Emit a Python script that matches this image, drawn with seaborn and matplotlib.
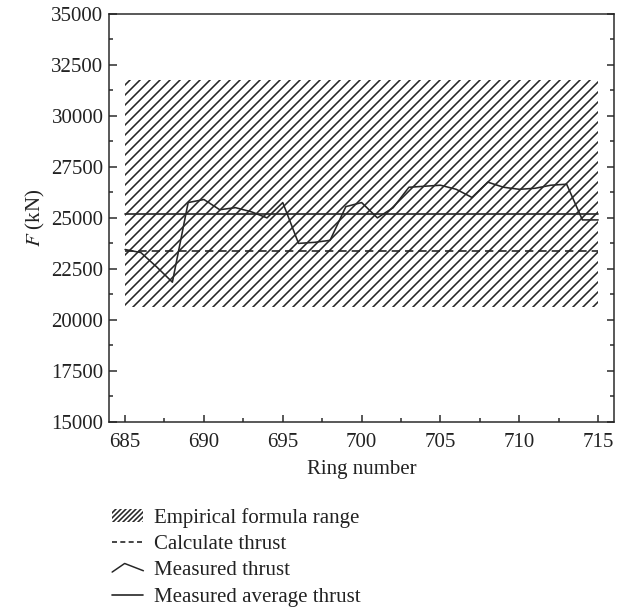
import matplotlib
matplotlib.use("Agg")
import matplotlib.pyplot as plt
import seaborn as sns
import pandas as pd
import numpy as np
from matplotlib.patches import Patch
from matplotlib.lines import Line2D
from matplotlib.legend_handler import HandlerBase
from matplotlib.ticker import MultipleLocator

# ---------------- data ----------------
ring = list(range(685, 716))
measured_thrust = [23450, 23300, 22600, 21850, 25750, 25900, 25400, 25500, 25300, 25000,
                   25750, 23750, 23800, 23900, 25550, 25750, 25000, 25500, 26500, 26550,
                   26600, 26400, 26000, 26750, 26500, 26400, 26450, 26600, 26650, 24900,
                   24900]
range_rings = [685, 715]
range_low = [20650, 20650]
range_high = [31750, 31750]
calc_thrust = 23400
avg_thrust = 25200

labels = ["Empirical formula range", "Calculate thrust", "Measured thrust",
          "Measured average thrust"]

# ---------------- style ----------------
sns.set_style("ticks")
plt.rcParams["font.family"] = ["Liberation Serif", "DejaVu Serif"]
plt.rcParams["mathtext.fontset"] = "stix"
plt.rcParams["hatch.linewidth"] = 0.95

INK = "#262626"
fig = plt.figure(figsize=(5.25, 5.1), dpi=120)
ax = fig.add_axes([0.1735, 0.3105, 0.801, 0.667])

df = pd.DataFrame({"ring": ring, "thrust": measured_thrust})

ax.fill_between(range_rings, range_low, range_high, facecolor="none",
                edgecolor=INK, hatch="////", linewidth=0)
ax.axhline(calc_thrust, xmin=(range_rings[0] - 684) / 32, xmax=(range_rings[1] - 684) / 32,
           color=INK, lw=1.0, ls=(0, (5, 3)))
ax.axhline(avg_thrust, xmin=(range_rings[0] - 684) / 32, xmax=(range_rings[1] - 684) / 32,
           color=INK, lw=1.0)
sns.lineplot(data=df, x="ring", y="thrust", ax=ax, color=INK, lw=0.95)

ax.set_xlim(684, 716)
ax.set_ylim(15000, 35000)
ax.xaxis.set_major_locator(MultipleLocator(5))
ax.xaxis.set_minor_locator(MultipleLocator(2.5))
ax.yaxis.set_major_locator(MultipleLocator(2500))
ax.yaxis.set_minor_locator(MultipleLocator(1250))
ax.tick_params(axis="both", which="both", direction="in", colors=INK, labelcolor="#222",
               labelsize=12.5, width=0.9)
ax.tick_params(axis="y", which="both", right=True)
ax.tick_params(which="major", length=4.5)
ax.tick_params(which="minor", length=2.5)
ax.tick_params(axis="x", which="both", pad=6.5)
for s in ax.spines.values():
    s.set_color(INK)
    s.set_linewidth(0.9)

ax.set_xlabel("Ring number", fontsize=12.5, color="#222", labelpad=5)
ax.set_ylabel("$F$ (kN)", fontsize=12.5, color="#222", labelpad=2.5)


class ZigzagHandler(HandlerBase):
    def create_artists(self, legend, orig_handle, xdescent, ydescent, width, height,
                       fontsize, trans):
        xs = np.array([0.0, 0.4, 1.0]) * width - xdescent
        ys = np.array([0.2, 0.85, 0.3]) * height - ydescent
        return [Line2D(xs, ys, color=INK, lw=0.9, transform=trans)]


h_range = Patch(facecolor="white", edgecolor=INK, lw=0, hatch="////////")
h_calc = Line2D([], [], color=INK, lw=1.0, ls=(0, (3, 2)))
h_meas = Line2D([], [], color=INK, lw=0.9)
h_avg = Line2D([], [], color=INK, lw=1.0)

fig.legend([h_range, h_calc, h_meas, h_avg], labels,
           handler_map={h_meas: ZigzagHandler()},
           loc="upper left", bbox_to_anchor=(0.178, 0.170), frameon=False,
           fontsize=12.5, handlelength=1.5, handleheight=0.6, handletextpad=0.5,
           labelspacing=0.35, borderpad=0, borderaxespad=0, labelcolor="#222")

fig.savefig("out.png", dpi=120)
